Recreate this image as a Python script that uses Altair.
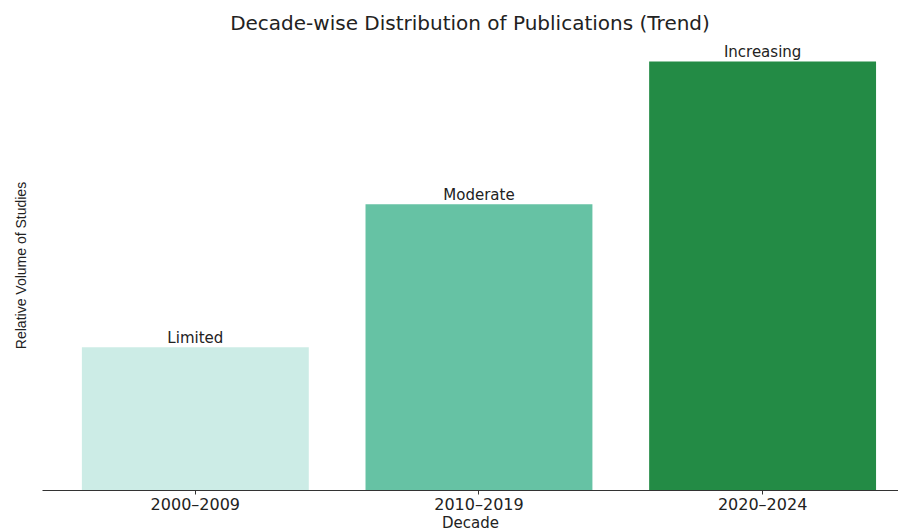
import altair as alt
import pandas as pd

decades = ["2000–2009", "2010–2019", "2020–2024"]
volumes = [1, 2, 3]
trend_labels = ["Limited", "Moderate", "Increasing"]
colors = ["#ccece6", "#66c2a4", "#238b45"]

df = pd.DataFrame({"Decade": decades, "Volume": volumes, "Trend": trend_labels})

FONT = "DejaVu Sans"

x_enc = alt.X(
    "Decade:N",
    sort=decades,
    title="Decade",
    scale=alt.Scale(paddingInner=0.2, paddingOuter=0.109, align=0.645),
    axis=alt.Axis(
        labelAngle=0,
        labelFont=FONT,
        labelFontSize=16,
        labelColor="#222222",
        labelPadding=2,
        titleFont=FONT,
        titleFontSize=15,
        titleFontWeight="normal",
        titleColor="#222222",
        titlePadding=3,
        domainColor="#333333",
        tickColor="#333333",
        tickSize=4,
        domainWidth=1,
    ),
)

y_enc = alt.Y(
    "Volume:Q",
    title="Relative Volume of Studies",
    scale=alt.Scale(domain=[0, 3.15], nice=False, zero=True),
    axis=alt.Axis(
        labels=False,
        ticks=False,
        domain=False,
        grid=False,
        titleFont="Liberation Sans",
        titleFontSize=14,
        titleFontWeight="normal",
        titleColor="#222222",
        titlePadding=14,
    ),
)

bars = alt.Chart(df).mark_bar().encode(
    x=x_enc,
    y=y_enc,
    color=alt.Color("Decade:N", scale=alt.Scale(domain=decades, range=colors), legend=None),
)

text = alt.Chart(df).mark_text(
    baseline="bottom", dy=-1, font=FONT, fontSize=15, color="#222222"
).encode(
    x=alt.X("Decade:N", sort=decades),
    y=alt.Y("Volume:Q"),
    text="Trend:N",
)

chart = (
    alt.layer(bars, text)
    .properties(
        width=856,
        height=450,
        background="white",
        autosize=alt.AutoSizeParams(type="none"),
        padding={"left": 34, "top": 32, "right": 0, "bottom": 40},
        title=alt.TitleParams(
            "Decade-wise Distribution of Publications (Trend)",
            font=FONT,
            fontSize=20,
            fontWeight="normal",
            color="#222222",
            offset=6,
        ),
    )
    .configure_view(strokeWidth=0, stroke="transparent")
)

chart.save("out.html", embed_options={"renderer": "svg", "actions": False})
